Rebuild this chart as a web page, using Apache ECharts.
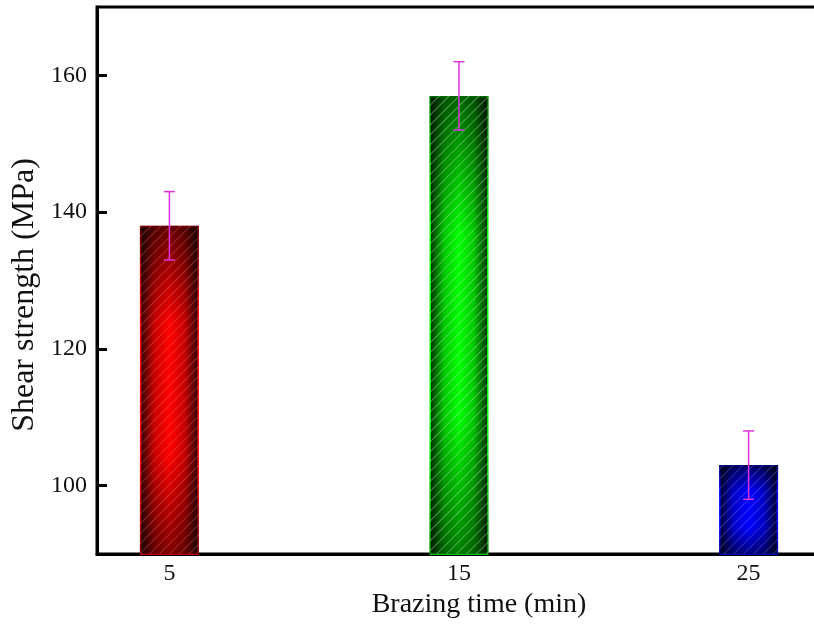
<!DOCTYPE html>
<html>
<head>
<meta charset="utf-8">
<script src="https://cdn.jsdelivr.net/npm/echarts@6/dist/echarts.min.js"></script>
<style>html,body{margin:0;padding:0;background:#fff}#c{width:814px;height:627px}</style>
</head>
<body>
<div id="c"></div>
<script>
var times = [5, 15, 25];
var strength = [138, 157, 103];
var errors = [5, 5, 5];
var yTicks = [100, 120, 140, 160];
var xTicks = [5, 15, 25];
var barColors = ['#ff0000', '#00ff00', '#0000ff'];
var midColors = ['#c80000', '#00c800', '#0000c8'];
var darkColors = ['#280000', '#002800', '#000028'];
var hatchColors = ['rgba(255,120,120,0.35)', 'rgba(170,230,170,0.45)', 'rgba(130,130,255,0.35)'];

var chart = echarts.init(document.getElementById('c'));
var FONT = '"Liberation Serif", "Times New Roman", serif';

var baseData = times.map(function (t, i) {
  return {
    value: [t, strength[i]],
    itemStyle: {
      color: new echarts.graphic.LinearGradient(0, 0, 1, 0, [
        {offset: 0, color: darkColors[i]},
        {offset: 0.25, color: midColors[i]},
        {offset: 0.5, color: barColors[i]},
        {offset: 0.75, color: midColors[i]},
        {offset: 1, color: darkColors[i]}
      ]),
      borderColor: barColors[i],
      borderWidth: 1.5
    }
  };
});
var overlayData = times.map(function (t, i) {
  return {
    value: [t, strength[i]],
    itemStyle: {
      color: new echarts.graphic.LinearGradient(0, 0, 0, 1, [
        {offset: 0, color: 'rgba(0,0,0,0.6)'},
        {offset: 0.3, color: 'rgba(0,0,0,0)'},
        {offset: 0.7, color: 'rgba(0,0,0,0)'},
        {offset: 1, color: 'rgba(0,0,0,0.5)'}
      ]),
      decal: {
        symbol: 'rect',
        symbolSize: 1,
        color: hatchColors[i],
        dashArrayX: [1, 0],
        dashArrayY: [1, 6],
        rotation: -Math.PI / 4
      }
    }
  };
});
var errData = times.map(function (t, i) { return [t, strength[i], errors[i]]; });

chart.setOption({
  animation: false,
  backgroundColor: '#fff',
  grid: {left: 97, top: 7, width: 724, bottom: 73, show: true, borderColor: '#000', borderWidth: 3, containLabel: false, outerBoundsMode: 'none'},
  xAxis: {
    type: 'value', min: 2.5, max: 27.5,
    name: 'Brazing time (min)', nameLocation: 'middle', nameGap: 32,
    nameTextStyle: {fontFamily: FONT, fontSize: 28, color: '#111', padding: [0, 0, 0, 40]},
    axisLine: {show: true, onZero: false, lineStyle: {color: '#000', width: 3}},
    axisTick: {show: true, inside: true, length: 9, lineStyle: {width: 3, color: '#000'}, customValues: xTicks},
    axisLabel: {customValues: xTicks, fontFamily: FONT, fontSize: 24, color: '#111', margin: 8},
    splitLine: {show: false}
  },
  yAxis: {
    type: 'value', min: 90, max: 170,
    name: 'Shear strength (MPa)', nameLocation: 'middle', nameGap: 56,
    nameTextStyle: {fontFamily: FONT, fontSize: 32, color: '#111', padding: [0, 29, 0, 0]},
    axisLine: {show: true, onZero: false, lineStyle: {color: '#000', width: 3}},
    axisTick: {show: true, inside: true, length: 10, lineStyle: {width: 3, color: '#000'}, customValues: yTicks},
    axisLabel: {customValues: yTicks, fontFamily: FONT, fontSize: 24, color: '#111', margin: 10},
    splitLine: {show: false}
  },
  series: [
    {type: 'bar', data: baseData, barWidth: 59, barGap: '-100%'},
    {type: 'bar', data: overlayData, barWidth: 59, barGap: '-100%'},
    {
      type: 'custom', data: errData, z: 10,
      renderItem: function (params, api) {
        var x = api.value(0), v = api.value(1), e = api.value(2);
        var top = api.coord([x, v + e]);
        var bot = api.coord([x, v - e]);
        var hw = 5.5;
        var st = {stroke: '#dd33dd', lineWidth: 1.5};
        return {type: 'group', children: [
          {type: 'line', shape: {x1: top[0], y1: top[1], x2: bot[0], y2: bot[1]}, style: st},
          {type: 'line', shape: {x1: top[0] - hw, y1: top[1], x2: top[0] + hw, y2: top[1]}, style: st},
          {type: 'line', shape: {x1: bot[0] - hw, y1: bot[1], x2: bot[0] + hw, y2: bot[1]}, style: st}
        ]};
      }
    }
  ]
});
</script>
</body>
</html>
